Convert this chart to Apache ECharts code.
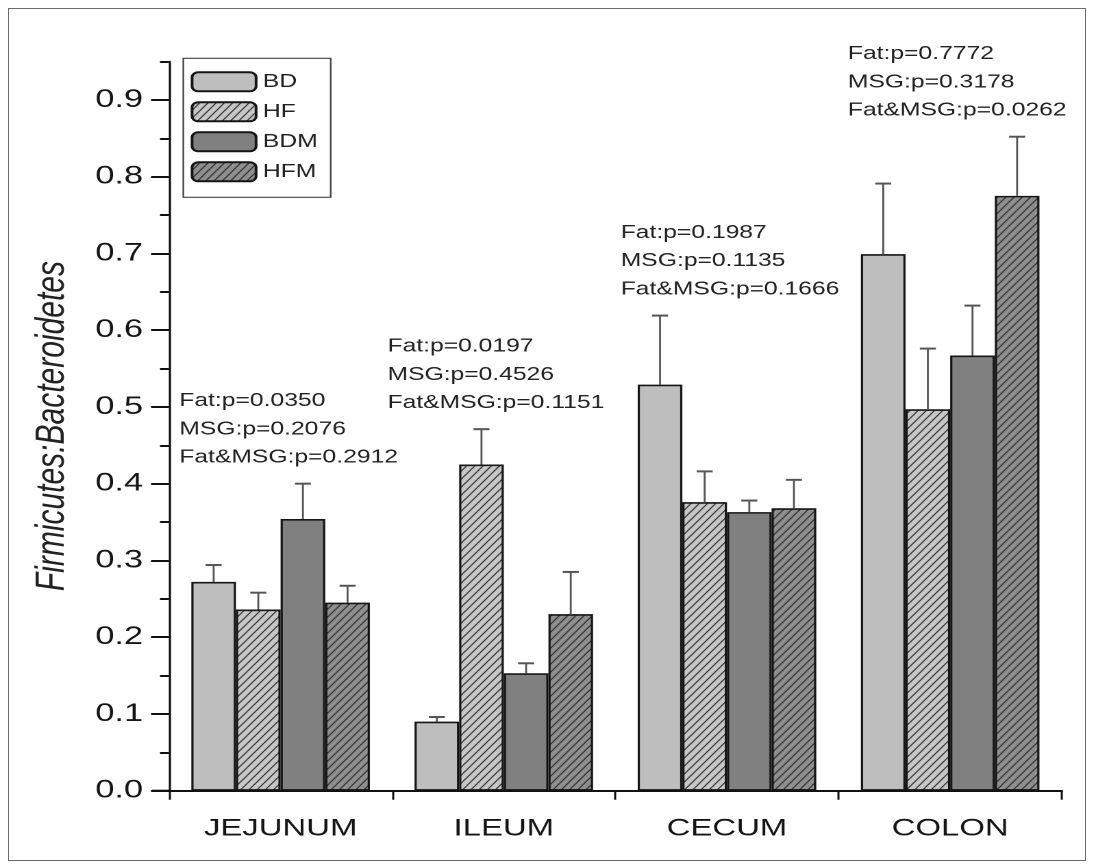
<!DOCTYPE html>
<html><head><meta charset="utf-8">
<script src="https://cdn.jsdelivr.net/npm/echarts@6/dist/echarts.min.js"></script>
<style>
html,body{margin:0;padding:0;background:#fff;width:1093px;height:868px;overflow:hidden;}
#frame{position:absolute;left:8px;top:8px;width:1076px;height:851px;border:1.5px solid #6a6a6a;}
#chart{position:absolute;left:0;top:0;height:868px;transform-origin:0 0;}
</style></head><body>
<div id="frame"></div>
<div id="chart"></div>
<script>
// ---------- data ----------
const categories = ['JEJUNUM', 'ILEUM', 'CECUM', 'COLON'];
const seriesNames = ['BD', 'HF', 'BDM', 'HFM'];
const BD      = [0.272, 0.090, 0.529, 0.699];
const BD_err  = [0.022, 0.006, 0.090, 0.092];
const HF      = [0.236, 0.425, 0.376, 0.497];
const HF_err  = [0.022, 0.046, 0.040, 0.079];
const BDM     = [0.354, 0.153, 0.363, 0.567];
const BDM_err = [0.046, 0.013, 0.015, 0.065];
const HFM     = [0.245, 0.230, 0.368, 0.775];
const HFM_err = [0.022, 0.055, 0.037, 0.077];
const fatP    = ['0.0350', '0.0197', '0.1987', '0.7772'];
const msgP    = ['0.2076', '0.4526', '0.1135', '0.3178'];
const interP  = ['0.2912', '0.1151', '0.1666', '0.0262'];
const yTickValues  = [0, 0.1, 0.2, 0.3, 0.4, 0.5, 0.6, 0.7, 0.8, 0.9];
const yMinorValues = [0.05, 0.15, 0.25, 0.35, 0.45, 0.55, 0.65, 0.75, 0.85, 0.95];
const yMax = 0.95;

// ---------- layout / style ----------
const SX = 1.37;                 // the reference is horizontally stretched
const W = 1093 / SX;
const FONT = '"Liberation Sans", Arial, Helvetica, sans-serif';
const annoDx = [-12, -27, -17, -13]; // text left offset from group left (px)
const annoGapAboveBars = 26;
const annoLH = 28.3;

const el = document.getElementById('chart');
el.style.width = W + 'px';
el.style.transform = 'scaleX(' + SX + ')';
const chart = echarts.init(el, null, { renderer: 'canvas', devicePixelRatio: 2 });

function hatch(bg) {
  const r = 3, w = 6, h = 8;
  const c = document.createElement('canvas');
  c.width = w * r; c.height = h * r;
  const g = c.getContext('2d');
  g.scale(r, r);
  g.fillStyle = bg; g.fillRect(0, 0, w, h);
  g.strokeStyle = '#2a2a2a'; g.lineWidth = 0.9;
  g.beginPath();
  g.moveTo(-w, h); g.lineTo(w, -h);
  g.moveTo(0, h); g.lineTo(w, 0);
  g.moveTo(0, 2 * h); g.lineTo(2 * w, 0);
  g.stroke();
  return { image: c, repeat: 'repeat', scaleX: 1 / r, scaleY: 1 / r };
}

const values = [BD, HF, BDM, HFM];
const errs = [BD_err, HF_err, BDM_err, HFM_err];
const fills = ['#bebebe', hatch('#c6c6c6'), '#808080', hatch('#8e8e8e')];

const barSeries = seriesNames.map((n, i) => ({
  name: n, type: 'bar', xAxisIndex: 0, yAxisIndex: 0,
  data: values[i],
  barGap: '0%', barCategoryGap: '20%',
  itemStyle: { color: fills[i], borderColor: '#151515', borderWidth: 1.6 },
  z: 2
}));

const errSeries = seriesNames.map((n, i) => ({
  name: n + ' error', type: 'custom', xAxisIndex: 0, yAxisIndex: 0, z: 3,
  data: values[i].map((v, k) => [k, v, errs[i][k]]),
  renderItem: function (params, api) {
    const c = api.value(0), v = api.value(1), e = api.value(2);
    const base = api.coord([c, v]);
    const top = api.coord([c, v + e]);
    const band = api.size([1, 0])[0];
    const x = base[0] - 0.4 * band + 0.2 * band * (i + 0.5);
    const half = 8 / SX;
    return {
      type: 'group', children: [
        { type: 'line', shape: { x1: x, y1: base[1], x2: x, y2: top[1] }, style: { stroke: '#555', lineWidth: 1.4 } },
        { type: 'line', shape: { x1: x - half, y1: top[1], x2: x + half, y2: top[1] }, style: { stroke: '#555', lineWidth: 2 } }
      ]
    };
  }
}));

const option = {
  animation: false,
  backgroundColor: 'transparent',
  textStyle: { fontFamily: FONT },
  grid: { left: 169 / SX, right: W - 1061.5 / SX, top: 61.5, bottom: 868 - 790.7, containLabel: false },
  legend: {
    data: seriesNames, orient: 'vertical', left: 183.3 / SX, top: 58.3,
    itemWidth: 64 / SX, itemHeight: 19, itemGap: 9,
    padding: [13, 9.5, 15, 5.4],
    borderColor: '#444', borderWidth: 1.2,
    textStyle: { fontSize: 18, color: '#222', fontFamily: FONT },
    selectedMode: false
  },
  xAxis: [
    {
      type: 'category', data: categories, position: 'bottom',
      axisLine: { lineStyle: { color: '#111', width: 2 } },
      axisTick: { alignWithLabel: true, length: 16, lineStyle: { color: '#111', width: 1.5 } },
      axisLabel: { fontSize: 24, color: '#151515', margin: 26, fontFamily: FONT },
      splitLine: { show: false }
    },
    {
      type: 'category', data: categories, position: 'bottom',
      axisLine: { show: false },
      axisTick: { show: true, length: 9, lineStyle: { color: '#111', width: 1.5 } },
      axisLabel: { show: false },
      splitLine: { show: false }
    }
  ],
  yAxis: [
    {
      type: 'value', position: 'left', min: 0, max: yMax,
      name: 'Firmicutes:Bacteroidetes', nameLocation: 'middle', nameGap: 70,
      nameTextStyle: { fontSize: 30, fontStyle: 'italic', color: '#222', fontFamily: FONT },
      axisLine: { show: true, lineStyle: { color: '#111', width: 1.6 } },
      axisTick: { show: true, customValues: yTickValues, length: 18 / SX, lineStyle: { color: '#111', width: 2 } },
      axisLabel: { customValues: yTickValues, fontSize: 25, color: '#151515', margin: 19,
        formatter: v => Number(v).toFixed(1), fontFamily: FONT },
      splitLine: { show: false }
    },
    {
      type: 'value', position: 'left', min: 0, max: yMax,
      axisLine: { show: false },
      axisTick: { show: true, customValues: yMinorValues, length: 9 / SX, lineStyle: { color: '#111', width: 2 } },
      axisLabel: { show: false },
      splitLine: { show: false }
    }
  ],
  series: barSeries.concat(errSeries)
};
chart.setOption(option);

// annotations + x-axis stub drawn from the chart's own scales
function px(ci, v) { return chart.convertToPixel({ xAxisIndex: 0, yAxisIndex: 0 }, [ci, v]); }
const graphics = [];
const y0 = px(0, 0)[1];
graphics.push({ type: 'line', shape: { x1: 152 / SX, y1: y0, x2: 169 / SX, y2: y0 }, style: { stroke: '#111', lineWidth: 2 }, z: 10 });
categories.forEach((cat, ci) => {
  const band = px(1, 0)[0] - px(0, 0)[0];
  const center = px(ci, 0)[0];
  let topY = Infinity;
  values.forEach((arr, si) => { topY = Math.min(topY, px(ci, arr[ci] + errs[si][ci])[1]); });
  const lastCenter = topY - annoGapAboveBars;
  const left = center - 0.4 * band + annoDx[ci] / SX;
  graphics.push({
    type: 'text', x: left, y: lastCenter + annoLH / 2, z: 10,
    style: {
      text: 'Fat:p=' + fatP[ci] + '\nMSG:p=' + msgP[ci] + '\nFat&MSG:p=' + interP[ci],
      fontSize: 18, fontFamily: FONT, fill: '#222', lineHeight: annoLH,
      align: 'left', verticalAlign: 'bottom'
    }
  });
});
chart.setOption({ graphic: graphics });
</script>
</body></html>
